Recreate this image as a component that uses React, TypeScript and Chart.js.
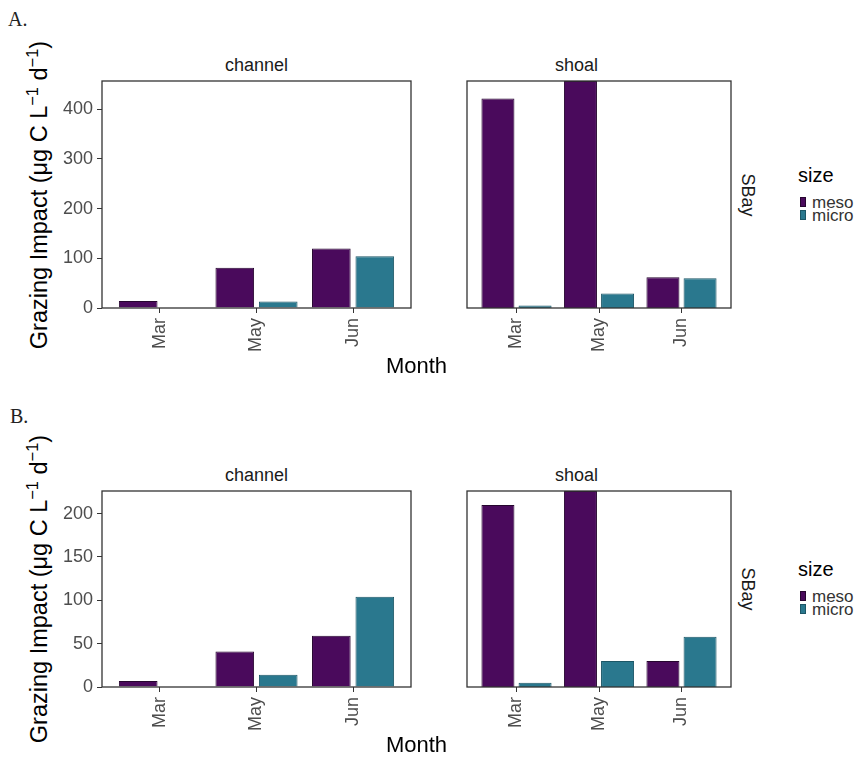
import React, { useEffect, useRef } from 'react';
import { Chart, registerables } from 'chart.js';

Chart.register(...registerables);

// ---------- data ----------
const months = ['Mar', 'May', 'Jun'];
const sites = ['channel', 'shoal'];
const sizes = ['meso', 'micro'];
const sizeColors = ['#4a0a5c', '#2a788e'];
const sizeBorders = ['#26062f', '#1c5666'];

// Panel A
const aChannelMeso = [14, 81, 120];
const aChannelMicro = [0, 13, 104];
const aShoalMeso = [422, 457, 62];
const aShoalMicro = [5, 29, 60];
const aYTicks = [0, 100, 200, 300, 400];

// Panel B
const bChannelMeso = [7, 41, 59];
const bChannelMicro = [0, 14, 104];
const bShoalMeso = [210, 226, 30];
const bShoalMicro = [5, 30, 58];
const bYTicks = [0, 50, 100, 150, 200];

const regionLabel = 'SBay';
const xTitle = 'Month';

// ---------- layout / style ----------
const SANS = '"Liberation Sans", Arial, Helvetica, sans-serif';
const SERIF = '"Liberation Serif", "Times New Roman", serif';
const PANEL_X = [
  [102, 411],
  [422, 731],
];
const PAD = 3;
const YAXIS_W = 45;
const XAXIS_H = 62;

const framePlugin = {
  id: 'frame',
  afterDatasetsDraw(chart: any) {
    const { ctx, chartArea: a } = chart;
    ctx.save();
    ctx.strokeStyle = '#333333';
    ctx.lineWidth = 1.3;
    ctx.strokeRect(a.left, a.top, a.right - a.left, a.bottom - a.top);
    ctx.restore();
  },
};

function zeroPadding(s: any) {
  s.paddingTop = 0;
  s.paddingBottom = 0;
  s.paddingLeft = 0;
  s.paddingRight = 0;
}

type FacetProps = {
  left: number;
  right: number;
  top: number;
  bottom: number;
  meso: number[];
  micro: number[];
  yMax: number;
  yTicks: number[];
  showY: boolean;
};

function Facet({ left, right, top, bottom, meso, micro, yMax, yTicks, showY }: FacetProps) {
  const ref = useRef<HTMLCanvasElement | null>(null);
  const yw = showY ? YAXIS_W : 0;
  const cw = right - left + PAD * 2 + yw;
  const ch = bottom - top + PAD + XAXIS_H;
  useEffect(() => {
    if (!ref.current) return;
    const series = [meso, micro];
    const chart = new Chart(ref.current, {
      type: 'bar',
      data: {
        datasets: series.map((vals, k) => ({
          label: sizes[k],
          data: vals.map((v, i) => ({ x: i + 1, y: v })),
          backgroundColor: sizeColors[k],
          borderColor: sizeBorders[k],
          borderWidth: 1,
          categoryPercentage: 0.9,
          barPercentage: 0.889,
        })),
      },
      options: {
        animation: false,
        responsive: false,
        devicePixelRatio: 1,
        layout: { padding: { left: PAD, right: PAD, top: PAD, bottom: 0 } },
        plugins: { legend: { display: false }, tooltip: { enabled: false } },
        scales: {
          x: {
            type: 'linear',
            min: 0.4,
            max: months.length + 0.6,
            offset: false,
            afterBuildTicks: (s: any) => {
              s.ticks = months.map((_, i) => ({ value: i + 1 }));
            },
            afterFit: (s: any) => {
              s.height = XAXIS_H;
              zeroPadding(s);
            },
            ticks: {
              callback: (v: any) => months[Math.round(Number(v)) - 1] ?? '',
              minRotation: 90,
              maxRotation: 90,
              autoSkip: false,
              padding: 5,
              color: '#4d4d4d',
              font: { family: SANS, size: 18 },
            },
            grid: {
              drawOnChartArea: false,
              drawTicks: true,
              tickLength: 5,
              color: '#333333',
              tickColor: '#333333',
              offset: false,
            },
            border: { display: false },
          },
          y: {
            type: 'linear',
            display: showY,
            min: 0,
            max: yMax,
            afterBuildTicks: (s: any) => {
              s.ticks = yTicks.map((v) => ({ value: v }));
            },
            afterFit: (s: any) => {
              s.width = YAXIS_W;
              zeroPadding(s);
            },
            ticks: {
              padding: 4,
              color: '#4d4d4d',
              font: { family: SANS, size: 18 },
            },
            grid: {
              drawOnChartArea: false,
              drawTicks: true,
              tickLength: 5,
              color: '#333333',
              tickColor: '#333333',
            },
            border: { display: false },
          },
        },
      } as any,
      plugins: [framePlugin],
    });
    return () => chart.destroy();
  }, []);
  return (
    <canvas
      ref={ref}
      width={cw}
      height={ch}
      style={{ position: 'absolute', left: left - PAD - yw, top: top - PAD, width: cw, height: ch }}
    />
  );
}

type LabelProps = {
  x: number;
  y: number;
  anchor?: 'start' | 'center';
  rotate?: number;
  size: number;
  color?: string;
  family?: string;
  children: React.ReactNode;
};

function Label({ x, y, anchor = 'center', rotate = 0, size, color = '#000', family = SANS, children }: LabelProps) {
  const tx = anchor === 'center' ? '-50%' : '0';
  return (
    <div
      style={{
        position: 'absolute',
        left: x,
        top: y,
        transform: `translate(${tx}, -50%) rotate(${rotate}deg)`,
        whiteSpace: 'nowrap',
        lineHeight: 1,
        fontSize: size,
        fontFamily: family,
        color,
      }}
    >
      {children}
    </div>
  );
}

type FigureProps = {
  tag: string;
  tagX: number;
  tagY: number;
  top: number;
  bottom: number;
  channelMeso: number[];
  channelMicro: number[];
  shoalMeso: number[];
  shoalMicro: number[];
  yTicks: number[];
  xTitleY: number;
};

function Figure(p: FigureProps) {
  const yMax = Math.max(...p.channelMeso, ...p.channelMicro, ...p.shoalMeso, ...p.shoalMicro);
  const midY = (p.top + p.bottom) / 2;
  const facetData = [
    [p.channelMeso, p.channelMicro],
    [p.shoalMeso, p.shoalMicro],
  ];
  const sup = { fontSize: '70%', position: 'relative' as const, top: '-0.55em' };
  return (
    <>
      <Label x={p.tagX} y={p.tagY} anchor="start" size={20} family={SERIF} color="#222">
        {p.tag}
      </Label>
      {sites.map((s, i) => (
        <React.Fragment key={s}>
          <Facet
            left={PANEL_X[i][0]}
            right={PANEL_X[i][1]}
            top={p.top}
            bottom={p.bottom}
            meso={facetData[i][0]}
            micro={facetData[i][1]}
            yMax={yMax}
            yTicks={p.yTicks}
            showY={i === 0}
          />
          <Label x={(PANEL_X[i][0] + PANEL_X[i][1]) / 2} y={p.top - 16} size={18} color="#1a1a1a">
            {s}
          </Label>
        </React.Fragment>
      ))}
      <Label x={40} y={midY} rotate={-90} size={23.5}>
        Grazing Impact (μg C L<span style={sup}>−1</span> d<span style={sup}>−1</span>)
      </Label>
      <Label x={(PANEL_X[0][0] + PANEL_X[1][1]) / 2} y={p.xTitleY} size={22}>
        {xTitle}
      </Label>
      <Label x={748} y={midY} rotate={90} size={18} color="#1a1a1a">
        {regionLabel}
      </Label>
      <Label x={798} y={midY - 20} anchor="start" size={20}>
        size
      </Label>
      {sizes.map((s, k) => (
        <React.Fragment key={s}>
          <div
            style={{
              position: 'absolute',
              left: 800,
              top: midY + 2 + k * 13,
              width: 6,
              height: 10,
              background: sizeColors[k],
              boxSizing: 'border-box',
              border: `1px solid ${sizeBorders[k]}`,
            }}
          />
          <Label x={812} y={midY + 7 + k * 13} anchor="start" size={17} color="#333">
            {s}
          </Label>
        </React.Fragment>
      ))}
    </>
  );
}

export default function App() {
  return (
    <div
      style={{
        position: 'absolute',
        left: 0,
        top: 0,
        width: 862,
        height: 759,
        background: '#ffffff',
        overflow: 'hidden',
        fontFamily: SANS,
      }}
    >
      <Figure
        tag="A."
        tagX={8}
        tagY={19}
        top={81}
        bottom={308}
        channelMeso={aChannelMeso}
        channelMicro={aChannelMicro}
        shoalMeso={aShoalMeso}
        shoalMicro={aShoalMicro}
        yTicks={aYTicks}
        xTitleY={366}
      />
      <Figure
        tag="B."
        tagX={10}
        tagY={416}
        top={491}
        bottom={687}
        channelMeso={bChannelMeso}
        channelMicro={bChannelMicro}
        shoalMeso={bShoalMeso}
        shoalMicro={bShoalMicro}
        yTicks={bYTicks}
        xTitleY={745}
      />
    </div>
  );
}
